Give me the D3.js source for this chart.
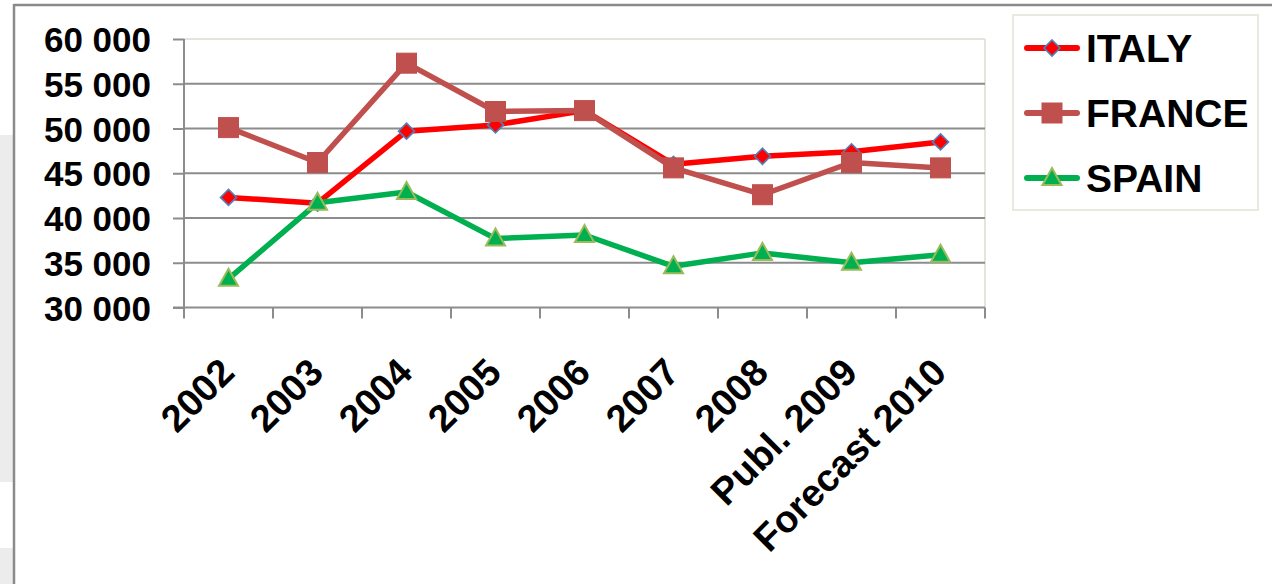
<!DOCTYPE html>
<html>
<head>
<meta charset="utf-8">
<script src="https://cdn.jsdelivr.net/npm/d3@7"></script>
<style>
  html, body { margin: 0; padding: 0; background: #ffffff; }
  svg { display: block; }
  text { font-family: "Liberation Sans", Arial, sans-serif; font-weight: bold; fill: #000; }
</style>
</head>
<body>
<svg id="chart" width="1272" height="584"></svg>
<script>
const categories = ["2002", "2003", "2004", "2005", "2006", "2007", "2008", "Publ. 2009", "Forecast 2010"];
const seriesNames = ["ITALY", "FRANCE", "SPAIN"];
const italy  = [42300, 41650, 49700, 50400, 52000, 46000, 46900, 47400, 48500];
const france = [50100, 46200, 57300, 51900, 52000, 45600, 42600, 46200, 45600];
const spain  = [33200, 41700, 42900, 37700, 38100, 34600, 36100, 35000, 35900];
const yTicks = [30000, 35000, 40000, 45000, 50000, 55000, 60000];

const series = [
  { name: seriesNames[0], values: italy,  color: "#ff0000", marker: "diamond" },
  { name: seriesNames[1], values: france, color: "#c0504d", marker: "square" },
  { name: seriesNames[2], values: spain,  color: "#00b050", marker: "triangle" }
];

const svg = d3.select("#chart");

// slide background bits
svg.append("rect").attr("x", 0).attr("y", 135).attr("width", 13).attr("height", 347).attr("fill", "#ececec");
svg.append("rect").attr("x", 0).attr("y", 548).attr("width", 13).attr("height", 36).attr("fill", "#ececec");
svg.append("line").attr("x1", 14).attr("x2", 1272).attr("y1", 5).attr("y2", 5)
  .attr("stroke", "#8a8a8a").attr("stroke-width", 2.5);
svg.append("line").attr("x1", 14).attr("x2", 14).attr("y1", 4).attr("y2", 584)
  .attr("stroke", "#8a8a8a").attr("stroke-width", 2.5);

const x = d3.scaleBand().domain(categories).range([184, 985]).padding(0);
const y = d3.scaleLinear().domain([30000, 60000]).range([307.5, 39]);
const cx = c => x(c) + x.bandwidth() / 2;

// plot area border (light)
svg.append("line").attr("x1", 184).attr("x2", 985).attr("y1", y(60000)).attr("y2", y(60000))
  .attr("stroke", "#e6e3da").attr("stroke-width", 2);
svg.append("line").attr("x1", 985).attr("x2", 985).attr("y1", y(60000)).attr("y2", y(30000))
  .attr("stroke", "#e6e3da").attr("stroke-width", 2);

// gridlines
svg.append("g").selectAll("line").data(yTicks.filter(v => v > 30000 && v < 60000)).join("line")
  .attr("x1", 184).attr("x2", 985).attr("y1", d => y(d)).attr("y2", d => y(d))
  .attr("stroke", "#8c8c8c").attr("stroke-width", 2);

// y axis
const locale = d3.formatLocale({ decimal: ",", thousands: " ", grouping: [3], currency: ["", ""] });
const fmt = locale.format(",");
const yAxis = svg.append("g").attr("transform", "translate(184,0)")
  .call(d3.axisLeft(y).tickValues(yTicks).tickFormat(fmt).tickSize(11).tickPadding(22));
yAxis.select(".domain").attr("stroke", "#8c8c8c").attr("stroke-width", 2).attr("d", `M0,${y(60000)}V318`);
yAxis.selectAll(".tick line").attr("stroke", "#8c8c8c").attr("stroke-width", 2);
yAxis.selectAll(".tick text").attr("font-size", 35).attr("font-family", "Liberation Sans, Arial, sans-serif")
  .attr("font-weight", "bold").attr("fill", "#000").attr("dy", "0.36em");

// x axis
const xAxis = svg.append("g").attr("transform", `translate(0,${y(30000)})`)
  .call(d3.axisBottom(x).tickSize(0).tickPadding(0));
xAxis.select(".domain").attr("stroke", "#8c8c8c").attr("stroke-width", 2).attr("d", `M173,0H985`);
xAxis.selectAll(".tick text")
  .attr("font-size", 38).attr("font-family", "Liberation Sans, Arial, sans-serif")
  .attr("font-weight", "bold").attr("fill", "#000")
  .attr("text-anchor", "end").attr("dy", null).attr("y", null)
  .attr("transform", "translate(8,67) rotate(-45)");
const boundaries = categories.map(c => x(c)).concat([x.range()[1]]);
svg.append("g").selectAll("line").data(boundaries).join("line")
  .attr("x1", d => d).attr("x2", d => d).attr("y1", y(30000)).attr("y2", y(30000) + 11)
  .attr("stroke", "#8c8c8c").attr("stroke-width", 2);

// markers
function drawMarker(g, type, color) {
  if (type === "diamond") {
    g.append("path").attr("d", "M0,-8L8,0L0,8L-8,0Z")
      .attr("fill", "#ff0000").attr("stroke", "#4f81bd").attr("stroke-width", 1.6);
  } else if (type === "square") {
    g.append("rect").attr("x", -10).attr("y", -10).attr("width", 20).attr("height", 20)
      .attr("fill", "#c0504d").attr("stroke", "#c0504d").attr("stroke-width", 1);
  } else {
    g.append("path").attr("d", "M0,-10L9.5,7L-9.5,7Z")
      .attr("fill", "#00b050").attr("stroke", "#9bbb59").attr("stroke-width", 2);
  }
}

const line = d3.line().x(d => cx(d.c)).y(d => y(d.v));
series.forEach(s => {
  const pts = categories.map((c, i) => ({ c, v: s.values[i] }));
  svg.append("path").datum(pts).attr("d", line)
    .attr("fill", "none").attr("stroke", s.color).attr("stroke-width", 5.5)
    .attr("stroke-linejoin", "round").attr("stroke-linecap", "round");
  pts.forEach(p => {
    const g = svg.append("g").attr("transform", `translate(${cx(p.c)},${y(p.v)})`);
    drawMarker(g, s.marker, s.color);
  });
});

// legend
svg.append("rect").attr("x", 1013).attr("y", 15).attr("width", 245).attr("height", 195)
  .attr("fill", "#fff").attr("stroke", "#ebe8df").attr("stroke-width", 2);
const legendY = [48, 113, 178];
series.forEach((s, i) => {
  const ly = legendY[i];
  svg.append("line").attr("x1", 1027).attr("x2", 1077).attr("y1", ly).attr("y2", ly)
    .attr("stroke", s.color).attr("stroke-width", 6).attr("stroke-linecap", "round");
  const g = svg.append("g").attr("transform", `translate(1052,${ly})`);
  drawMarker(g, s.marker, s.color);
  svg.append("text").attr("x", 1086).attr("y", ly + 14).attr("font-size", 39).text(s.name);
});
</script>
</body>
</html>
